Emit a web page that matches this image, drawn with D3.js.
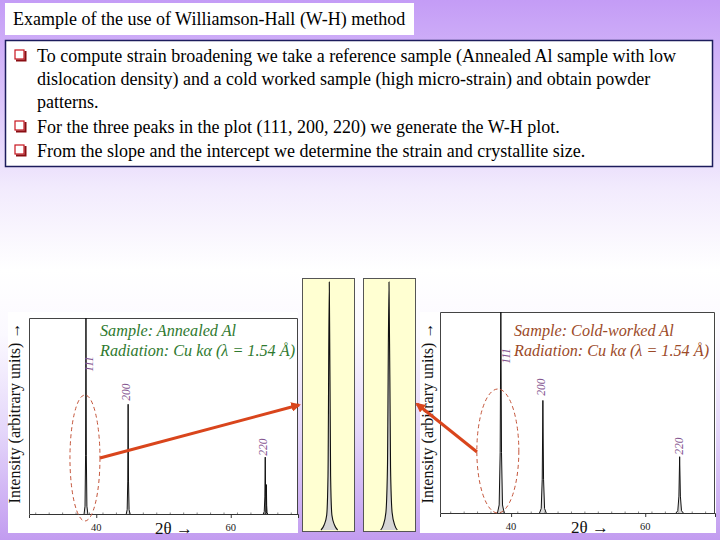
<!DOCTYPE html>
<html><head><meta charset="utf-8">
<script src="https://cdn.jsdelivr.net/npm/d3@7"></script>
<style>html,body{margin:0;padding:0;background:#fff}svg{display:block}
.sf{font-family:"Liberation Serif","DejaVu Serif",serif}</style>
</head><body>
<script>
// ---- data ----
const titleText = "Example of the use of Williamson-Hall (W-H) method";
const bulletLines = [
  {text:"To compute strain broadening we take a reference sample (Annealed Al sample with low", bullet:true},
  {text:"dislocation density) and a cold worked sample (high micro-strain) and obtain powder", bullet:false},
  {text:"patterns.", bullet:false},
  {text:"For the three peaks in the plot (111, 200, 220) we generate the W-H plot.", bullet:true},
  {text:"From the slope and the intercept we determine the strain and crystallite size.", bullet:true}
];
const hkl = ["111","200","220"];
const peakPos = [38.47, 44.74, 65.13];          // 2θ (deg)
const annealedInt = [100, 56, 29];
const annealedHalfBase = [0.28, 0.28, 0.3];      // deg
const coldInt = [100, 56, 28];
const coldHalfBase = [0.5, 0.5, 0.55];
const ka2Shoulder = {pos: 65.3, int: 15};         // annealed 220 Kα2 shoulder
const xTicks = [40, 60];
const profileRel = [-1, -0.5, -0.2, 0, 0.2, 0.5, 1];
const profileInt = [0, 0.04, 0.3, 1, 0.3, 0.04, 0];
const zoomAnnealedX = [-0.32,-0.2,-0.1,-0.05,0,0.05,0.1,0.2,0.32];
const zoomAnnealedY = [0,0.02,0.06,0.22,1,0.22,0.06,0.02,0];
const zoomColdX = [-0.32,-0.22,-0.12,-0.06,0,0.06,0.12,0.22,0.32];
const zoomColdY = [0,0.02,0.07,0.25,1,0.25,0.07,0.02,0];
const sampleLeft = ["Sample: Annealed Al", "Radiation: Cu kα (λ = 1.54 Å)"];
const sampleRight = ["Sample: Cold-worked Al", "Radiation: Cu kα (λ = 1.54 Å)"];
const yLabel = "Intensity (arbitrary units) →";
const xLabel = "2θ →";

const W = 720, H = 540;
const svg = d3.select("body").append("svg").attr("width", W).attr("height", H);
const defs = svg.append("defs");
const bg = defs.append("linearGradient").attr("id","bg").attr("x1",0).attr("y1",0).attr("x2",0).attr("y2",1);
[[0,"#c49cf6"],[0.18,"#dac3fa"],[0.35,"#f2ebfd"],[0.5,"#ffffff"],[0.62,"#fbf9ff"],[0.8,"#e4d6fa"],[1,"#c29cf0"]]
  .forEach(([o,c]) => bg.append("stop").attr("offset",o).attr("stop-color",c));
svg.append("rect").attr("width",W).attr("height",H).attr("fill","url(#bg)");
const mk = defs.append("marker").attr("id","arr").attr("viewBox","0 0 10 10").attr("refX",8).attr("refY",5)
  .attr("markerWidth",3.2).attr("markerHeight",3.2).attr("orient","auto");
mk.append("path").attr("d","M0,0L10,5L0,10z").attr("fill","#d9451c");

function T(sel){ return sel.attr("class","sf"); }

// ---- title ----
svg.append("rect").attr("x",5).attr("y",3).attr("width",409).attr("height",32).attr("fill","#fff");
T(svg.append("text")).attr("x",13).attr("y",25).attr("font-size",18).attr("fill","#000").text(titleText);

// ---- bullet box ----
svg.append("rect").attr("x",5.5).attr("y",40.5).attr("width",707).attr("height",126).attr("fill","#fff")
  .attr("stroke","#1c1c5c").attr("stroke-width",1.5);
const lineY = [62, 85, 108, 133, 157];
bulletLines.forEach((l,i) => {
  T(svg.append("text")).attr("x",37).attr("y",lineY[i]).attr("font-size",18)
    .attr("fill","#000").text(l.text);
  if (l.bullet) {
    const by = lineY[i]-12;
    svg.append("rect").attr("x",15).attr("y",by).attr("width",9).attr("height",9).attr("fill","#fff")
      .attr("stroke","#c8141e").attr("stroke-width",1.2);
    svg.append("path").attr("d",`M${16},${by+10.5}H${25.5}V${by+1}`).attr("fill","none")
      .attr("stroke","#8a0d12").attr("stroke-width",2);
  }
});

// ---- chart builder ----
function drawChart(cfg) {
  const g = svg.append("g");
  g.append("rect").attr("x",cfg.panel[0]).attr("y",cfg.panel[1]).attr("width",cfg.panel[2]).attr("height",cfg.panel[3]).attr("fill","#fff");
  const x = d3.scaleLinear().domain(cfg.xdom).range([cfg.left, cfg.right]);
  const y = d3.scaleLinear().domain([0,100]).range([cfg.base, cfg.top]);
  g.append("path").attr("d",`M${cfg.left+0.5},${cfg.base}V${cfg.top+0.5}H${cfg.right-0.5}V${cfg.base}`)
    .attr("fill","none").attr("stroke","#444").attr("stroke-width",1);
  const ax = g.append("g").attr("transform",`translate(0,${cfg.base})`)
    .call(d3.axisBottom(x).tickValues(xTicks).tickSize(4).tickFormat(""));
  ax.select(".domain").attr("stroke","#333");
  ax.selectAll(".tick line").attr("stroke","#333");
  const minor = d3.range(31, 70, 2);
  g.selectAll(".mn").data(minor).enter().append("line")
    .attr("x1",d=>x(d)).attr("x2",d=>x(d)).attr("y1",cfg.base).attr("y2",cfg.base-1.5)
    .attr("stroke","#666").attr("stroke-width",0.8);
  T(g.selectAll(".tl").data(xTicks).enter().append("text"))
    .attr("x",d=>x(d)).attr("y",cfg.base+17).attr("text-anchor","middle")
    .attr("font-size",10.5).attr("fill","#222").text(d=>d);
  T(g.append("text")).attr("x",cfg.xlabX).attr("y",cfg.base+20).attr("font-size",17)
    .attr("fill","#111").text(xLabel);
  T(g.append("text")).attr("transform",`translate(${cfg.ylabX},${cfg.ylabY}) rotate(-90)`).attr("text-anchor","middle")
    .attr("font-size",16).attr("fill","#111").text(yLabel);
  const line = d3.line().x(d=>x(d[0])).y(d=>y(d[1]));
  hkl.forEach((h,i) => {
    const pts = profileRel.map((r,k)=>[peakPos[i] + r*cfg.half[i], profileInt[k]*cfg.ints[i]]);
    g.append("path").attr("d",line(pts)).attr("fill","#bbb").attr("fill-opacity",0.5)
      .attr("stroke","#111").attr("stroke-width",1);
  });
  if (cfg.shoulder) {
    const s = cfg.shoulder;
    const pts = profileRel.map((r,k)=>[s.pos + r*0.2, profileInt[k]*s.int]);
    g.append("path").attr("d",line(pts)).attr("fill","none").attr("stroke","#111").attr("stroke-width",1);
  }
  hkl.forEach((h,i) => {
    T(g.append("text")).attr("transform",`translate(${x(peakPos[i])+cfg.lblDx[i]},${cfg.lblY[i]}) rotate(-90)`)
      .attr("text-anchor","middle").attr("font-style","italic")
      .attr("font-size",11.5).attr("fill","#84548f").text(h);
  });
  cfg.note.forEach((t,k) => {
    T(g.append("text")).attr("x",cfg.noteX).attr("y",cfg.noteY[k])
      .attr("font-style","italic").attr("font-size",16.2).attr("fill",cfg.noteColor).text(t);
  });
  g.append("ellipse").attr("cx",x(peakPos[0])+cfg.ell[0]).attr("cy",cfg.ell[1]).attr("rx",cfg.ell[2]).attr("ry",cfg.ell[3])
    .attr("fill","none").attr("stroke","#c4553a").attr("stroke-width",1).attr("stroke-dasharray","4,3");
  return x;
}

drawChart({panel:[8,312,290,221], xdom:[30,70], left:29, right:298, base:514, top:318,
  ints:annealedInt, half:annealedHalfBase, shoulder:ka2Shoulder,
  xlabX:155, ylabX:20, ylabY:413, lblDx:[7,2,2], lblY:[364,392,447],
  note:sampleLeft, noteX:100, noteY:[336,356], noteColor:"#2f7a2f", ell:[-1,458,15,63]});
drawChart({panel:[420,312,296,221], xdom:[29.4,70.4], left:440, right:715, base:513, top:312,
  ints:coldInt, half:coldHalfBase, shoulder:null,
  xlabX:571, ylabX:433, ylabY:413, lblDx:[9,2,3], lblY:[356,387,446],
  note:sampleRight, noteX:514, noteY:[336,356], noteColor:"#9c4a28", ell:[-3,451,21,62]});

// ---- zoomed peak panels ----
const panels = [
  {x0:302, xs:zoomAnnealedX, ys:zoomAnnealedY, c:0.05},
  {x0:363, xs:zoomColdX, ys:zoomColdY, c:0}
];
panels.forEach(p => {
  const zx = d3.scaleLinear().domain([-1,1]).range([p.x0, p.x0+52]);
  const zy = d3.scaleLinear().domain([0,1]).range([530, 282]);
  svg.append("rect").attr("x",p.x0+0.5).attr("y",278.5).attr("width",52).attr("height",253)
    .attr("fill","#ffffd2").attr("stroke","#555").attr("stroke-width",1);
  const pts = p.xs.map((v,k)=>[v+p.c, p.ys[k]]);
  svg.append("path").attr("d", d3.line().x(d=>zx(d[0])).y(d=>zy(d[1])).curve(d3.curveMonotoneX)(pts))
    .attr("fill","#d6d6d6").attr("stroke","#111").attr("stroke-width",1.1);
});

// ---- arrows ----
svg.append("line").attr("x1",100).attr("y1",458).attr("x2",299).attr("y2",405)
  .attr("stroke","#d9451c").attr("stroke-width",3).attr("marker-end","url(#arr)");
svg.append("line").attr("x1",477).attr("y1",452).attr("x2",417).attr("y2",404)
  .attr("stroke","#d9451c").attr("stroke-width",3).attr("marker-end","url(#arr)");
</script>
</body></html>
